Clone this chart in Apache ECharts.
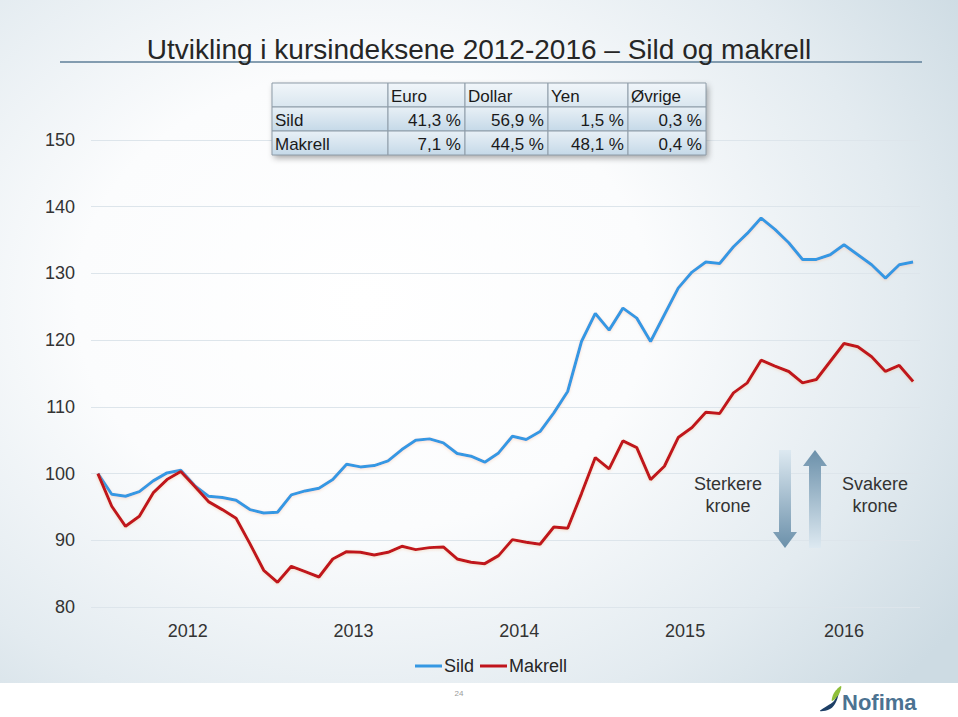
<!DOCTYPE html>
<html lang="no">
<head>
<meta charset="utf-8" />
<title>Utvikling i kursindeksene 2012-2016</title>
<script src="https://cdn.jsdelivr.net/npm/echarts@6/dist/echarts.min.js"></script>
<style>
  html, body { margin: 0; padding: 0; }
  #main {
    width: 958px; height: 717px;
    background: radial-gradient(ellipse 75% 80% at 38% 42%, #ffffff 0%, #fbfcfd 40%, #e3ebf0 75%, #cddbe3 100%);
  }
</style>
</head>
<body>
<div id="main"></div>
<script>
// maaneder des 2011 - nov 2016
const months = [];
for (let i = 0; i < 60; i++) {
  const m = (11 + i) % 12, y = 2011 + Math.floor((11 + i) / 12);
  months.push(y + '-' + String(m + 1).padStart(2, '0'));
}
const sild = [
  100.0, 96.9, 96.6, 97.3, 98.9, 100.1, 100.5, 98.2, 96.6, 96.4, 96.0, 94.6,
  94.1, 94.2, 96.8, 97.4, 97.8, 99.1, 101.4, 101.0, 101.2, 101.9, 103.6, 105.0,
  105.2, 104.6, 103.0, 102.6, 101.7, 103.1, 105.6, 105.1, 106.3, 109.1, 112.3, 119.8,
  124.0, 121.5, 124.8, 123.3, 119.8, 123.8, 127.8, 130.2, 131.7, 131.5, 134.0, 136.0,
  138.3, 136.6, 134.6, 132.1, 132.1, 132.8, 134.3, 132.8, 131.3, 129.3, 131.3, 131.7
];
const makrell = [
  100.0, 95.1, 92.1, 93.6, 97.1, 99.1, 100.3, 98.1, 95.8, 94.6, 93.3, 89.5,
  85.5, 83.7, 86.1, 85.3, 84.5, 87.2, 88.3, 88.2, 87.8, 88.2, 89.1, 88.6,
  88.9, 89.0, 87.2, 86.7, 86.5, 87.7, 90.1, 89.7, 89.4, 92.0, 91.8, 97.0,
  102.4, 100.7, 104.9, 103.9, 99.1, 101.1, 105.4, 106.9, 109.2, 109.0, 112.1, 113.6,
  117.0, 116.1, 115.3, 113.6, 114.1, 116.8, 119.5, 119.0, 117.5, 115.3, 116.2, 113.8
];
const yearLabels = ['2012', '2013', '2014', '2015', '2016'];
const yTicks = [80, 150, 10];

const tableHeader = ['', 'Euro', 'Dollar', 'Yen', 'Øvrige'];
const tableRows = [
  ['Sild', '41,3 %', '56,9 %', '1,5 %', '0,3 %'],
  ['Makrell', '7,1 %', '44,5 %', '48,1 %', '0,4 %']
];

// midten av hvert aar langs maanedsaksen
const yearCenters = yearLabels.map(function (yr) {
  const idx = [];
  months.forEach(function (m, i) { if (m.slice(0, 4) === yr) idx.push(i); });
  return (idx[0] + idx[idx.length - 1]) / 2;
});

const chart = echarts.init(document.getElementById('main'), null, { renderer: 'svg' });

// tabell
const colX = [272, 388, 465, 548, 628, 706];
const rowY = [83, 107, 131, 155];
const tableEls = [{
  type: 'rect', z: 50, shape: { x: colX[0], y: rowY[0], width: colX[5] - colX[0], height: rowY[3] - rowY[0] },
  style: { fill: '#d6e4ee', shadowBlur: 6, shadowOffsetX: 2, shadowOffsetY: 3, shadowColor: 'rgba(0,0,0,0.35)' }
}];
[tableHeader].concat(tableRows).forEach(function (row, r) {
  row.forEach(function (txt, c) {
    tableEls.push({
      type: 'rect', z: 51,
      shape: { x: colX[c], y: rowY[r], width: colX[c + 1] - colX[c], height: rowY[r + 1] - rowY[r] },
      style: {
        fill: new echarts.graphic.LinearGradient(0, 0, 0, 1, [
          { offset: 0, color: r === 0 ? '#f1f6fa' : '#e8f0f6' },
          { offset: 1, color: r === 0 ? '#d9e6ef' : '#c5d9e8' }
        ]),
        stroke: '#8e9ca8', lineWidth: 1
      }
    });
    const right = r > 0 && c > 0;
    tableEls.push({
      type: 'text', z: 52,
      x: right ? colX[c + 1] - 4 : colX[c] + 3,
      y: (rowY[r] + rowY[r + 1]) / 2 + 1,
      style: {
        text: txt, fill: '#1a1a1a', font: '17px "Liberation Sans", Arial, sans-serif',
        align: right ? 'right' : 'left', verticalAlign: 'middle'
      }
    });
  });
});

function arrowShape(x, top, bottom, down) {
  const sw = 6, hw = 12, hh = 16;
  if (down) {
    return [[x - sw, top], [x + sw, top], [x + sw, bottom - hh], [x + hw, bottom - hh],
      [x, bottom], [x - hw, bottom - hh], [x - sw, bottom - hh]];
  }
  return [[x, top], [x + hw, top + hh], [x + sw, top + hh], [x + sw, bottom],
    [x - sw, bottom], [x - sw, top + hh], [x - hw, top + hh]];
}

const option = {
  animation: false,
  title: {
    text: 'Utvikling i kursindeksene 2012-2016 – Sild og makrell',
    left: 'center', top: 30,
    textStyle: { fontFamily: '"Liberation Sans", Arial, sans-serif', fontSize: 28, fontWeight: 'normal', color: '#262626' }
  },
  legend: {
    data: ['Sild', 'Makrell'],
    left: 410, top: 652,
    icon: 'rect', itemWidth: 27, itemHeight: 3, itemGap: 6,
    textStyle: { fontFamily: '"Liberation Sans", Arial, sans-serif', fontSize: 18, color: '#262626', padding: [0, 0, 0, -3] }
  },
  grid: { left: 91, right: 38, top: 140, bottom: 110, containLabel: false },
  xAxis: {
    type: 'value', min: -0.5, max: 59.5,
    axisLine: { show: false }, axisTick: { show: false }, splitLine: { show: false },
    axisLabel: {
      customValues: yearCenters,
      margin: 15, fontSize: 18, color: '#333333', fontFamily: '"Liberation Sans", Arial, sans-serif',
      formatter: function (v) {
        for (let i = 0; i < yearCenters.length; i++) {
          if (Math.abs(yearCenters[i] - v) < 0.01) return yearLabels[i];
        }
        return '';
      }
    }
  },
  yAxis: {
    type: 'value', min: yTicks[0], max: yTicks[1], interval: yTicks[2],
    axisLine: { show: false }, axisTick: { show: false },
    splitLine: { lineStyle: { color: '#dde5eb', width: 1 } },
    axisLabel: { margin: 16, fontSize: 18, color: '#333333', fontFamily: '"Liberation Sans", Arial, sans-serif' }
  },
  series: [
    {
      name: 'Sild', type: 'line', showSymbol: false,
      data: sild.map(function (v, i) { return [i, v]; }),
      itemStyle: { color: '#3598e3' },
      lineStyle: { width: 3, color: '#3598e3', shadowBlur: 3, shadowColor: 'rgba(240,170,120,0.35)', shadowOffsetY: 1 }
    },
    {
      name: 'Makrell', type: 'line', showSymbol: false,
      data: makrell.map(function (v, i) { return [i, v]; }),
      itemStyle: { color: '#c0141c' },
      lineStyle: { width: 3, color: '#c0141c', shadowBlur: 3, shadowColor: 'rgba(240,170,120,0.35)', shadowOffsetY: 1 }
    }
  ],
  graphic: [
    // hvit bunnstripe
    { type: 'rect', z: -10, silent: true, shape: { x: 0, y: 683, width: 958, height: 34 }, style: { fill: '#ffffff' } },
    // linje under tittel
    { type: 'line', shape: { x1: 60, y1: 62, x2: 922, y2: 62 }, style: { stroke: '#5f7f98', lineWidth: 1.5 } },
    { type: 'group', z: 50, children: tableEls },
    // piler
    {
      type: 'polygon', z: 50, shape: { points: arrowShape(785, 450, 548, true) },
      style: {
        fill: new echarts.graphic.LinearGradient(0, 0, 0, 1, [
          { offset: 0, color: '#dde9f1' }, { offset: 1, color: '#6b90aa' }
        ])
      }
    },
    {
      type: 'polygon', z: 50, shape: { points: arrowShape(815, 450, 548, false) },
      style: {
        fill: new echarts.graphic.LinearGradient(0, 0, 0, 1, [
          { offset: 0, color: '#6b90aa' }, { offset: 1, color: '#dde9f1' }
        ])
      }
    },
    {
      type: 'text', x: 728, y: 495,
      style: { text: 'Sterkere\nkrone', font: '18px "Liberation Sans", Arial, sans-serif', fill: '#333333', align: 'center', verticalAlign: 'middle', lineHeight: 22 }
    },
    {
      type: 'text', x: 875, y: 495,
      style: { text: 'Svakere\nkrone', font: '18px "Liberation Sans", Arial, sans-serif', fill: '#333333', align: 'center', verticalAlign: 'middle', lineHeight: 22 }
    },
    // sidetall og logo
    { type: 'text', x: 459, y: 693, style: { text: '24', font: '8px "Liberation Sans", Arial, sans-serif', fill: '#9a9a9a', align: 'center', verticalAlign: 'middle' } },
    {
      type: 'polygon', shape: { points: [[820, 711], [830, 709], [836, 702], [839, 691], [834, 701], [827, 706]], smooth: 0.4 },
      style: { fill: '#1d3f66' }
    },
    {
      type: 'polygon', shape: { points: [[832, 701], [834, 693], [841, 686], [839, 694]], smooth: 0.4 },
      style: { fill: '#8fbf3a' }
    },
    { type: 'text', x: 842, y: 702, style: { text: 'Nofima', font: 'bold 22px "Liberation Sans", Arial, sans-serif', fill: '#4b7291', verticalAlign: 'middle' } }
  ]
};
chart.setOption(option);
</script>
</body>
</html>
